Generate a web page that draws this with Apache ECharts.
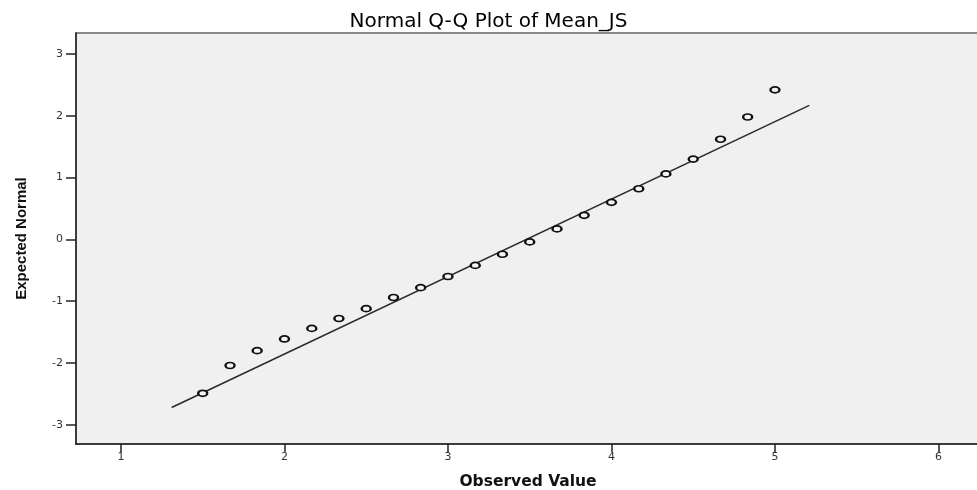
<!DOCTYPE html>
<html>
<head>
<meta charset="utf-8">
<script src="https://cdn.jsdelivr.net/npm/echarts@6/dist/echarts.min.js"></script>
<style>
  html, body { margin: 0; padding: 0; background: #ffffff; }
  #chart { width: 977px; height: 490px; }
</style>
</head>
<body>
<div id="chart"></div>
<script>
// Observed values (x) and expected normal quantiles (y)
const observedValues = [1.5, 1.667, 1.833, 2.0, 2.167, 2.333, 2.5, 2.667, 2.833, 3.0, 3.167,
                        3.333, 3.5, 3.667, 3.833, 4.0, 4.167, 4.333, 4.5, 4.667, 4.833, 5.0];
const expectedNormal = [-2.49, -2.04, -1.80, -1.61, -1.44, -1.28, -1.12, -0.94, -0.78, -0.60, -0.42,
                        -0.24, -0.04, 0.17, 0.39, 0.60, 0.82, 1.06, 1.30, 1.62, 1.98, 2.42];
// Reference line endpoints
const lineX = [1.31, 5.21];
const lineY = [-2.72, 2.17];
// Tick labels
const xTicks = [1, 2, 3, 4, 5, 6];
const yTicks = [-3, -2, -1, 0, 1, 2, 3];

const points = observedValues.map((x, i) => [x, expectedNormal[i]]);
const linePts = lineX.map((x, i) => [x, lineY[i]]);

const chart = echarts.init(document.getElementById('chart'), null, { renderer: 'canvas' });
chart.setOption({
  animation: false,
  backgroundColor: '#ffffff',
  title: {
    text: 'Normal Q-Q Plot of Mean_JS',
    left: 'center',
    top: 7,
    textStyle: { fontFamily: 'DejaVu Sans', fontSize: 20, fontWeight: 'normal', color: '#000' }
  },
  grid: {
    left: 76, top: 33, right: -3, bottom: 46,
    containLabel: false,
    outerBoundsMode: 'none',
    show: true,
    backgroundColor: '#f0f0f0',
    borderColor: '#8a8a8a',
    borderWidth: 2
  },
  xAxis: {
    type: 'value',
    min: 0.725, max: 6.254,
    name: 'Observed Value',
    nameLocation: 'middle',
    nameGap: 30,
    nameTextStyle: { fontFamily: 'DejaVu Sans', fontSize: 15.5, fontWeight: 'bold', color: '#111' },
    axisLine: { show: true, onZero: false, lineStyle: { color: '#222', width: 1.5 } },
    axisTick: { show: true, length: 8, customValues: xTicks, lineStyle: { color: '#222', width: 1.5 } },
    axisLabel: { customValues: xTicks, margin: 8, fontFamily: 'DejaVu Sans', fontSize: 11, color: '#333' },
    splitLine: { show: false }
  },
  yAxis: {
    type: 'value',
    min: -3.31, max: 3.34,
    name: 'Expected Normal',
    nameLocation: 'middle',
    nameRotate: 90,
    nameGap: 47,
    nameTextStyle: { fontFamily: 'Liberation Sans', fontSize: 15, fontWeight: 'bold', color: '#111' },
    axisLine: { show: true, onZero: false, lineStyle: { color: '#222', width: 1.5 } },
    axisTick: { show: true, length: 10, customValues: yTicks, lineStyle: { color: '#222', width: 1.5 } },
    axisLabel: { customValues: yTicks, margin: 13, fontFamily: 'DejaVu Sans', fontSize: 11, color: '#333' },
    splitLine: { show: false }
  },
  series: [
    {
      type: 'line',
      data: linePts,
      symbol: 'none',
      lineStyle: { color: '#2a2a2a', width: 1.5 },
      z: 2
    },
    {
      type: 'scatter',
      data: points,
      symbol: 'circle',
      symbolSize: [9, 6],
      itemStyle: { color: '#f4f4f4', borderColor: '#111', borderWidth: 2, opacity: 1 },
      z: 3
    }
  ]
});
</script>
</body>
</html>
